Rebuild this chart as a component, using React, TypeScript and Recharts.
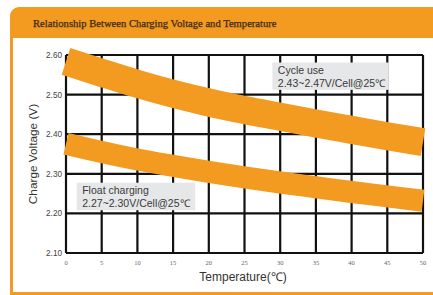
import { LineChart, Line, XAxis, YAxis, CartesianGrid, ReferenceArea } from 'recharts';

const temperatures = [0, 5, 10, 15, 20, 25, 30, 35, 40, 45, 50];
const cycleUse = [2.584, 2.555, 2.527, 2.502, 2.48, 2.461, 2.444, 2.427, 2.411, 2.395, 2.38];
const floatCharging = [2.376, 2.355, 2.336, 2.32, 2.305, 2.291, 2.278, 2.266, 2.254, 2.243, 2.232];
const voltageTicks = [2.1, 2.2, 2.3, 2.4, 2.5, 2.6];

const cycleNote = ['Cycle use', '2.43~2.47V/Cell@25℃'];
const floatNote = ['Float charging', '2.27~2.30V/Cell@25℃'];

const ORANGE = '#F39A20';
const GRID = '#111';
const gridLine = { stroke: GRID, strokeWidth: 2.2, strokeOpacity: 1 };

const data = temperatures.map((t, i) => ({
  temp: t,
  cycle: cycleUse[i],
  float: floatCharging[i],
}));

// grey note box with two lines of text
const noteShape = (lines: string[]) => (props: any) => {
  const { x, y, width, height } = props;
  return (
    <g>
      <rect x={x} y={y} width={width} height={height} fill="#E6E7E8" />
      <text fontFamily="'Liberation Sans', Arial, sans-serif" fontSize={10.5} fill="#3a3a3a">
        {lines.map((line, i) => (
          <tspan key={i} x={x + 5.5} y={y + 11 + i * 13.4}>{line}</tspan>
        ))}
      </text>
    </g>
  );
};

export default function App() {
  return (
    <div style={{ position: 'absolute', left: 0, top: 0, width: 433, height: 295, background: '#fff', overflow: 'hidden' }}>
      {/* frame */}
      <div style={{ position: 'absolute', left: 10, top: 7, width: 423, height: 31, background: ORANGE, borderTopLeftRadius: 9 }} />
      <div style={{ position: 'absolute', left: 10, top: 37, width: 3, height: 258, background: ORANGE }} />
      <div style={{ position: 'absolute', left: 10, top: 292, width: 423, height: 3, background: ORANGE }} />
      <div
        style={{
          position: 'absolute',
          left: 33,
          top: 17,
          fontFamily: "'Liberation Serif', 'DejaVu Serif', serif",
          fontSize: 10.6,
          fontWeight: 400,
          WebkitTextStroke: '0.25px #3a2a14',
          color: '#3a2a14',
          whiteSpace: 'nowrap',
          lineHeight: '14px',
        }}
      >
        Relationship Between Charging Voltage and Temperature
      </div>

      <div style={{ position: 'absolute', left: 0, top: 0 }}>
        <LineChart width={433} height={295} data={data} margin={{ top: 55, right: 10, bottom: 22, left: 36 }}>
          <CartesianGrid {...gridLine} horizontal={gridLine} vertical={gridLine} />
          <XAxis
            type="number"
            dataKey="temp"
            domain={[0, 50]}
            ticks={temperatures}
            height={20}
            axisLine={false}
            tickLine={false}
            tickSize={0}
            tickMargin={7}
            tick={{ fontSize: 6.5, fill: '#666', fontFamily: "'Liberation Serif', serif" }}
          />
          <YAxis
            type="number"
            domain={[2.1, 2.6]}
            ticks={voltageTicks}
            width={30}
            axisLine={false}
            tickLine={false}
            tickSize={0}
            tickMargin={4}
            tickFormatter={(v: number) => v.toFixed(2)}
            tick={{ fontSize: 8.2, fill: '#444', fontFamily: "'Liberation Sans', Arial, sans-serif" }}
          />
          <Line
            type="monotone"
            dataKey="cycle"
            stroke={ORANGE}
            strokeWidth={28}
            dot={false}
            activeDot={false}
            isAnimationActive={false}
          />
          <Line
            type="monotone"
            dataKey="float"
            stroke={ORANGE}
            strokeWidth={22}
            dot={false}
            activeDot={false}
            isAnimationActive={false}
          />
          <ReferenceArea x1={28.9} x2={45.2} y1={2.512} y2={2.581} shape={noteShape(cycleNote)} />
          <ReferenceArea x1={1.5} x2={18.1} y1={2.208} y2={2.2775} shape={noteShape(floatNote)} />
        </LineChart>
      </div>

      {/* axis titles */}
      <div
        style={{
          position: 'absolute',
          left: 33,
          top: 154,
          transform: 'translate(-50%, -50%) rotate(-90deg)',
          fontFamily: "'Liberation Sans', Arial, sans-serif",
          fontSize: 11.8,
          color: '#333',
          whiteSpace: 'nowrap',
        }}
      >
        Charge Voltage (V)
      </div>
      <div
        style={{
          position: 'absolute',
          left: 243,
          top: 276,
          transform: 'translate(-50%, -50%)',
          fontFamily: "'Liberation Sans', Arial, sans-serif",
          fontSize: 12,
          color: '#333',
          whiteSpace: 'nowrap',
        }}
      >
        Temperature(℃)
      </div>
    </div>
  );
}
